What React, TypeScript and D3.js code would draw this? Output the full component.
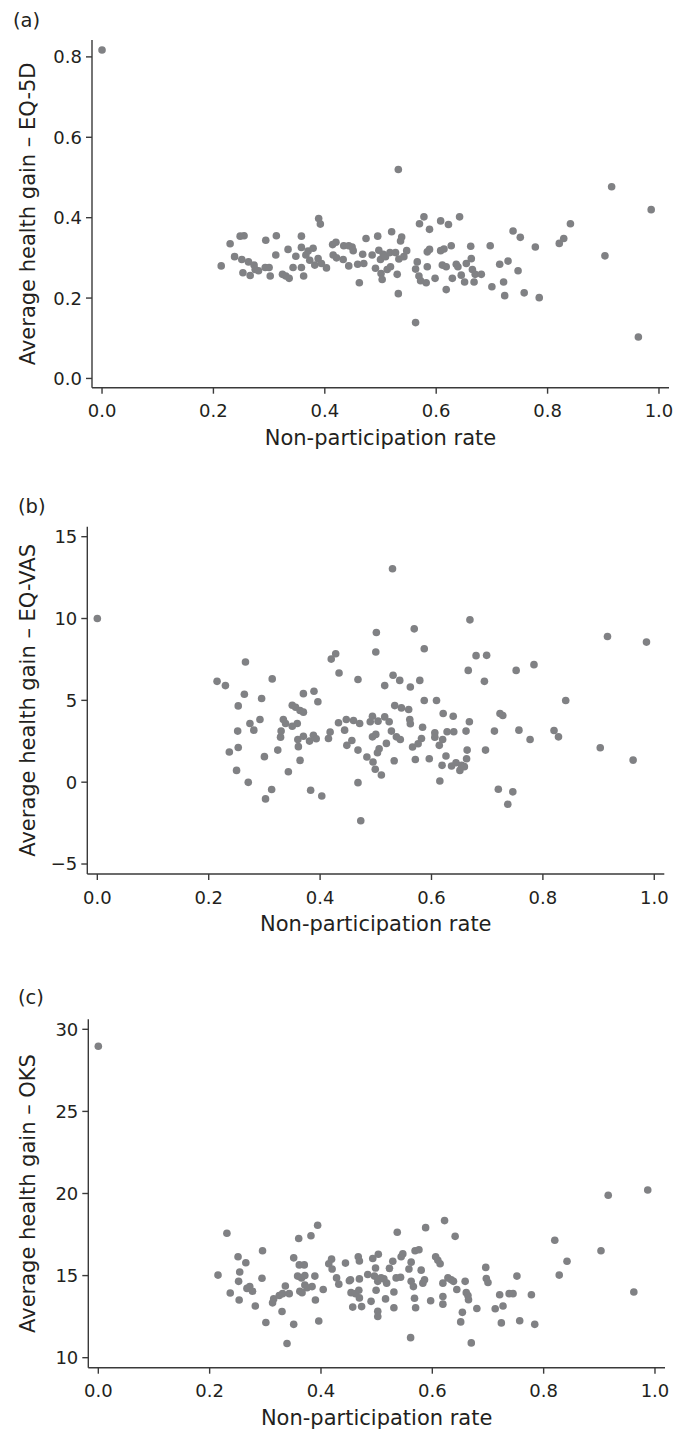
import React from "react";
import * as d3 from "d3";

// Shared x axis
const rateTicks = [0, 0.2, 0.4, 0.6, 0.8, 1.0];
const rateTitle = "Non-participation rate";

// (a) EQ-5D
const eq5dRate = [
  0.0, 0.214, 0.23, 0.238, 0.248, 0.255, 0.251, 0.263, 0.253, 0.266, 0.273, 0.275, 0.281, 0.293, 0.3,
  0.294, 0.302, 0.312, 0.313, 0.324, 0.33, 0.336, 0.334, 0.343, 0.348, 0.358, 0.358, 0.358, 0.362, 0.366,
  0.37, 0.373, 0.379, 0.382, 0.388, 0.389, 0.392, 0.394, 0.403, 0.414, 0.42, 0.415, 0.421, 0.433, 0.434,
  0.443, 0.449, 0.451, 0.443, 0.459, 0.468, 0.47, 0.474, 0.462, 0.485, 0.491, 0.495, 0.497, 0.5, 0.505,
  0.501, 0.503, 0.509, 0.512, 0.518, 0.517, 0.52, 0.527, 0.53, 0.532, 0.533, 0.536, 0.538, 0.542, 0.547,
  0.532, 0.563, 0.563, 0.566, 0.569, 0.572, 0.57, 0.578, 0.582, 0.584, 0.588, 0.584, 0.588, 0.598, 0.608,
  0.608, 0.614, 0.611, 0.618, 0.618, 0.622, 0.627, 0.629, 0.636, 0.639, 0.642, 0.645, 0.651, 0.654, 0.662,
  0.663, 0.665, 0.668, 0.67, 0.681, 0.697, 0.7, 0.714, 0.721, 0.723, 0.729, 0.738, 0.747, 0.751, 0.758,
  0.778, 0.785, 0.821, 0.829, 0.841, 0.903, 0.915, 0.963, 0.986,
];
const eq5dGain = [
  0.817, 0.28, 0.335, 0.303, 0.354, 0.355, 0.296, 0.29, 0.263, 0.256, 0.282, 0.271, 0.268, 0.276, 0.276,
  0.344, 0.255, 0.307, 0.355, 0.259, 0.255, 0.249, 0.321, 0.276, 0.304, 0.354, 0.326, 0.276, 0.255, 0.307,
  0.317, 0.294, 0.324, 0.282, 0.298, 0.398, 0.384, 0.286, 0.275, 0.333, 0.339, 0.307, 0.3, 0.296, 0.33,
  0.33, 0.327, 0.318, 0.28, 0.284, 0.309, 0.286, 0.348, 0.238, 0.307, 0.274, 0.354, 0.319, 0.296, 0.309,
  0.261, 0.246, 0.303, 0.271, 0.278, 0.313, 0.365, 0.313, 0.259, 0.52, 0.297, 0.342, 0.352, 0.303, 0.318,
  0.211, 0.139, 0.272, 0.29, 0.255, 0.243, 0.385, 0.402, 0.238, 0.278, 0.371, 0.315, 0.321, 0.249, 0.392,
  0.318, 0.322, 0.282, 0.278, 0.221, 0.383, 0.33, 0.249, 0.284, 0.278, 0.402, 0.257, 0.24, 0.286, 0.329,
  0.298, 0.271, 0.24, 0.259, 0.259, 0.33, 0.228, 0.284, 0.24, 0.206, 0.292, 0.367, 0.268, 0.351, 0.213,
  0.327, 0.201, 0.336, 0.348, 0.385, 0.305, 0.477, 0.103, 0.42,
];
const eq5dTicks = [0, 0.2, 0.4, 0.6, 0.8];

// (b) EQ-VAS
const vasRate = [
  0.0, 0.215, 0.23, 0.266, 0.264, 0.253, 0.252, 0.253, 0.237, 0.25, 0.271, 0.274, 0.281, 0.292, 0.295,
  0.3, 0.302, 0.313, 0.314, 0.324, 0.329, 0.33, 0.334, 0.338, 0.343, 0.35, 0.35, 0.356, 0.359, 0.361,
  0.36, 0.364, 0.364, 0.37, 0.37, 0.37, 0.381, 0.383, 0.388, 0.393, 0.389, 0.396, 0.403, 0.415, 0.418,
  0.42, 0.428, 0.434, 0.433, 0.444, 0.448, 0.447, 0.457, 0.46, 0.468, 0.468, 0.468, 0.471, 0.473, 0.484,
  0.49, 0.494, 0.495, 0.499, 0.494, 0.5, 0.501, 0.5, 0.504, 0.506, 0.503, 0.51, 0.516, 0.516, 0.519,
  0.524, 0.528, 0.531, 0.53, 0.533, 0.534, 0.537, 0.543, 0.544, 0.546, 0.559, 0.562, 0.561, 0.562, 0.566,
  0.569, 0.571, 0.576, 0.579, 0.582, 0.584, 0.587, 0.587, 0.596, 0.606, 0.606, 0.609, 0.614, 0.615, 0.619,
  0.62, 0.621, 0.626, 0.628, 0.636, 0.639, 0.64, 0.644, 0.651, 0.654, 0.659, 0.662, 0.663, 0.664, 0.666,
  0.668, 0.669, 0.68, 0.695, 0.697, 0.699, 0.713, 0.72, 0.723, 0.728, 0.737, 0.746, 0.752, 0.757, 0.777,
  0.784, 0.82, 0.828, 0.841, 0.903, 0.916, 0.962, 0.986,
];
const vasGain = [
  10.0, 6.16, 5.9, 7.34, 5.37, 4.66, 3.12, 2.12, 1.84, 0.72, -0.01, 3.59, 3.18, 3.83, 5.11,
  1.56, -1.02, -0.45, 6.31, 1.96, 2.75, 3.12, 3.83, 3.59, 0.64, 3.42, 4.7, 4.58, 3.59, 2.17,
  2.61, 1.33, 4.38, 4.28, 5.41, 2.81, 2.51, -0.49, 2.86, 2.65, 5.56, 4.91, -0.84, 2.67, 3.06,
  7.52, 7.85, 6.67, 3.63, 3.18, 2.25, 3.83, 2.55, 3.77, 6.27, 1.96, -0.03, 3.59, -2.36, 1.54,
  3.69, 4.03, 1.23, 0.79, 2.77, 2.92, 9.15, 7.95, 3.73, 2.04, 1.8, 0.44, 5.9, 3.99, 2.37,
  3.69, 3.12, 6.53, 13.04, 1.31, 4.68, 2.77, 6.22, 2.61, 4.54, 4.44, 5.82, 3.83, 3.57, 2.15,
  9.37, 1.39, 2.35, 6.22, 2.67, 3.36, 8.15, 4.99, 1.43, 3.02, 2.75, 4.99, 2.25, 0.07, 1.03,
  2.61, 4.2, 1.6, 3.08, 0.99, 4.03, 3.08, 1.19, 0.72, 1.03, 0.95, 3.12, 1.43, 1.96, 6.83,
  3.69, 9.92, 7.73, 6.16, 1.96, 7.75, 3.12, -0.43, 4.2, 4.07, -1.35, -0.59, 6.83, 3.18, 2.61,
  7.18, 3.16, 2.77, 4.99, 2.1, 8.9, 1.35, 8.56,
];
const vasTicks = [-5, 0, 5, 10, 15];

// (c) OKS
const oksRate = [
  0.0, 0.215, 0.231, 0.237, 0.251, 0.254, 0.252, 0.253, 0.265, 0.267, 0.272, 0.277, 0.282, 0.294, 0.295,
  0.301, 0.313, 0.315, 0.325, 0.33, 0.331, 0.336, 0.339, 0.343, 0.351, 0.351, 0.358, 0.36, 0.361, 0.362,
  0.365, 0.366, 0.37, 0.371, 0.371, 0.375, 0.382, 0.384, 0.389, 0.39, 0.394, 0.396, 0.404, 0.414, 0.419,
  0.42, 0.428, 0.432, 0.451, 0.444, 0.453, 0.454, 0.457, 0.462, 0.467, 0.469, 0.469, 0.468, 0.469, 0.473,
  0.484, 0.49, 0.493, 0.496, 0.498, 0.499, 0.502, 0.502, 0.503, 0.502, 0.508, 0.513, 0.516, 0.518, 0.523,
  0.529, 0.531, 0.531, 0.535, 0.537, 0.543, 0.544, 0.547, 0.558, 0.561, 0.562, 0.562, 0.566, 0.568, 0.57,
  0.569, 0.576, 0.58, 0.583, 0.586, 0.588, 0.597, 0.606, 0.61, 0.614, 0.619, 0.619, 0.619, 0.622, 0.628,
  0.634, 0.638, 0.641, 0.644, 0.651, 0.654, 0.659, 0.661, 0.664, 0.665, 0.67, 0.68, 0.696, 0.697, 0.7,
  0.713, 0.721, 0.724, 0.727, 0.738, 0.745, 0.752, 0.757, 0.778, 0.784, 0.82, 0.828, 0.842, 0.903, 0.916,
  0.962, 0.987,
];
const oksGain = [
  28.97, 15.03, 17.58, 13.94, 16.15, 15.22, 14.65, 13.51, 15.78, 14.22, 14.33, 14.05, 13.15, 14.84, 16.51,
  12.14, 13.34, 13.58, 13.79, 12.81, 13.9, 14.37, 10.86, 13.9, 12.03, 16.08, 14.97, 17.26, 15.65, 14.05,
  14.86, 13.96, 15.65, 15.01, 14.43, 14.26, 17.43, 14.33, 14.97, 13.51, 18.07, 12.23, 14.15, 15.72, 16.0,
  15.4, 14.86, 14.48, 14.69, 15.76, 14.75, 13.96, 13.08, 13.9, 16.15, 15.89, 14.8, 14.11, 13.64, 13.11,
  15.07, 13.43, 16.04, 14.97, 15.46, 14.11, 12.83, 12.51, 16.3, 14.65, 14.86, 14.8, 13.58, 14.54, 15.44,
  15.87, 14.0, 13.04, 14.86, 17.64, 14.9, 16.15, 16.32, 15.4, 11.22, 15.82, 14.65, 14.33, 13.62, 13.04,
  16.51, 16.57, 15.33, 14.54, 14.75, 17.92, 13.47, 16.15, 15.93, 15.72, 14.54, 13.73, 13.26, 18.35, 14.86,
  14.75, 14.65, 17.39, 14.15, 12.18, 12.76, 14.65, 13.96, 13.79, 13.53, 10.9, 13.0, 15.5, 14.82, 14.58,
  12.98, 13.83, 12.12, 13.15, 13.9, 13.9, 14.97, 12.25, 13.83, 12.03, 17.15, 15.03, 15.87, 16.51, 19.89,
  14.0, 20.21,
];
const oksTicks = [10, 15, 20, 25, 30];

const FONT = "'DejaVu Sans', sans-serif";
const INK = "#231f20";
const DOT = "#808184";

type PanelSpec = {
  tag: string;
  title: string;
  rate: number[];
  gain: number[];
  ticks: number[];
  fmt: (v: number) => string;
  yDomain: [number, number];
  left: number;
  right: number;
  top: number;
  bottom: number;
  tagX: number;
  tagY: number;
};

const fmt1 = d3.format(".1f");
const fmtInt = d3.format("d");

const panels: PanelSpec[] = [
  {
    tag: "(a)", title: "Average health gain \u2013 EQ-5D", rate: eq5dRate, gain: eq5dGain,
    ticks: eq5dTicks, fmt: fmt1, yDomain: [-0.023, 0.842],
    left: 92, right: 669, top: 40, bottom: 387.7, tagX: 13, tagY: 27,
  },
  {
    tag: "(b)", title: "Average health gain \u2013 EQ-VAS", rate: vasRate, gain: vasGain,
    ticks: vasTicks, fmt: fmtInt, yDomain: [-5.61, 15.61],
    left: 87.3, right: 664.3, top: 526.7, bottom: 874, tagX: 18, tagY: 512.5,
  },
  {
    tag: "(c)", title: "Average health gain \u2013 OKS", rate: oksRate, gain: oksGain,
    ticks: oksTicks, fmt: fmtInt, yDomain: [9.39, 30.61],
    left: 88.3, right: 665, top: 1019.3, bottom: 1367.7, tagX: 18, tagY: 1004,
  },
];

const X_DOMAIN: [number, number] = [-0.018, 1.018];

function Panel({ p }: { p: PanelSpec }) {
  const x = d3.scaleLinear().domain(X_DOMAIN).range([p.left, p.right]);
  const y = d3.scaleLinear().domain(p.yDomain).range([p.bottom, p.top]);
  const midY = (p.top + p.bottom) / 2;
  const midX = (x(0) + x(1)) / 2;
  return (
    <g>
      <text x={p.tagX} y={p.tagY} fontSize={19.5} fill={INK}>{p.tag}</text>

      {/* points */}
      <g fill={DOT}>
        {p.rate.map((r, i) => (
          <circle key={i} cx={x(r)} cy={y(p.gain[i])} r={3.8} />
        ))}
      </g>

      {/* axes */}
      <g stroke="#3a3a3a" strokeWidth={1.4} fill="none">
        <line x1={p.left} x2={p.left} y1={p.top} y2={p.bottom} />
        <line x1={p.left} x2={p.right} y1={p.bottom} y2={p.bottom} />
        {p.ticks.map((t) => (
          <line key={"yt" + t} x1={p.left - 6} x2={p.left} y1={y(t)} y2={y(t)} />
        ))}
        {rateTicks.map((t) => (
          <line key={"xt" + t} x1={x(t)} x2={x(t)} y1={p.bottom} y2={p.bottom + 6} />
        ))}
      </g>

      <g fontSize={18} fill={INK}>
        {p.ticks.map((t) => (
          <text key={"yl" + t} x={p.left - 10} y={y(t)} dy="0.36em" textAnchor="end">
            {p.fmt(t)}
          </text>
        ))}
        {rateTicks.map((t) => (
          <text key={"xl" + t} x={x(t)} y={p.bottom + 29.5} textAnchor="middle">
            {fmt1(t)}
          </text>
        ))}
      </g>

      <text x={midX} y={p.bottom + 57} fontSize={21} textAnchor="middle" fill={INK}>
        {rateTitle}
      </text>
      <text
        transform={`translate(35,${midY}) rotate(-90)`}
        fontSize={21}
        textAnchor="middle"
        fill={INK}
      >
        {p.title}
      </text>
    </g>
  );
}

export default function App() {
  return (
    <svg
      width={675}
      height={1432}
      style={{ position: "absolute", left: 0, top: 0, background: "#fff" }}
      fontFamily={FONT}
    >
      <rect width={675} height={1432} fill="#fff" />
      {panels.map((p) => (
        <Panel key={p.tag} p={p} />
      ))}
    </svg>
  );
}
